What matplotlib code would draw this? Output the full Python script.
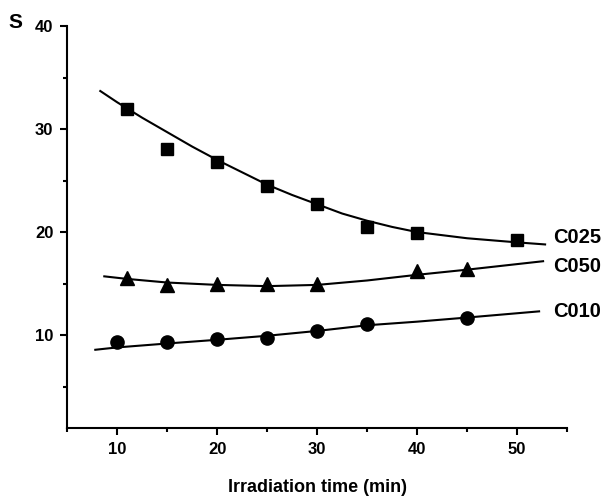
import matplotlib
matplotlib.use('Agg')
import matplotlib.pyplot as plt
from matplotlib.ticker import MultipleLocator

plt.rcParams['font.family'] = 'Liberation Sans'
plt.rcParams['font.weight'] = 'bold'

c025_t = [11, 15, 20, 25, 30, 35, 40, 50]
c025_s = [32.0, 28.1, 26.8, 24.5, 22.7, 20.5, 19.9, 19.25]

c050_t = [11, 15, 20, 25, 30, 40, 45]
c050_s = [15.5, 14.9, 15.0, 15.0, 14.95, 16.2, 16.45]

c010_t = [10, 15, 20, 25, 30, 35, 45]
c010_s = [9.3, 9.35, 9.6, 9.7, 10.4, 11.1, 11.7]

# fitted curves
fit025_t = [8.3, 10, 12.5, 15, 17.5, 20, 22.5, 25, 27.5, 30, 32.5, 35, 37.5, 40, 42.5, 45, 47.5, 50, 52.8]
fit025_s = [33.7, 32.6, 31.1, 29.7, 28.3, 27.0, 25.8, 24.6, 23.6, 22.7, 21.8, 21.1, 20.5, 20.0, 19.7, 19.4, 19.2, 19.0, 18.8]

fit050_t = [8.7, 11, 15, 20, 25, 30, 35, 40, 45, 52.6]
fit050_s = [15.7, 15.45, 15.1, 14.87, 14.75, 14.87, 15.3, 15.85, 16.35, 17.17]

fit010_t = [7.8, 10, 15, 20, 25, 30, 35, 40, 45, 52.2]
fit010_s = [8.57, 8.8, 9.18, 9.54, 9.93, 10.4, 10.95, 11.3, 11.7, 12.3]

labels = ['C025', 'C050', 'C010']
label_y = [19.5, 16.65, 12.3]

fig = plt.figure(figsize=(6.08, 4.97), dpi=100)
ax = fig.add_axes([0.1107, 0.1394, 0.822, 0.808])

ax.plot(fit025_t, fit025_s, '-', color='black', lw=1.5)
ax.plot(fit050_t, fit050_s, '-', color='black', lw=1.5)
ax.plot(fit010_t, fit010_s, '-', color='black', lw=1.5)

ax.plot(c025_t, c025_s, 's', color='black', ms=8.5)
ax.plot(c050_t, c050_s, '^', color='black', ms=10.5)
ax.plot(c010_t, c010_s, 'o', color='black', ms=9.5)

for lab, y in zip(labels, label_y):
    ax.text(53.6, y, lab, fontsize=14.5, fontweight='bold', ha='left', va='center', clip_on=False)

ax.set_xlim(5, 55)
ax.set_ylim(1, 40)
ax.xaxis.set_minor_locator(MultipleLocator(5))
ax.yaxis.set_minor_locator(MultipleLocator(5))
ax.set_xticks([10, 20, 30, 40, 50])
ax.set_yticks([10, 20, 30, 40])

ax.spines['top'].set_visible(False)
ax.spines['right'].set_visible(False)
ax.spines['left'].set_linewidth(1.5)
ax.spines['bottom'].set_linewidth(1.5)
ax.tick_params(which='major', direction='out', length=5, width=1.5, labelsize=12, pad=5)
ax.tick_params(which='minor', direction='out', length=3, width=1.5)
for t in ax.get_xticklabels() + ax.get_yticklabels():
    t.set_fontweight('bold')

ax.set_xlabel('Irradiation time (min)', fontsize=13, fontweight='bold', labelpad=16)
fig.text(15 / 608, 1 - 22 / 497, 'S', fontsize=15, fontweight='bold', ha='center', va='center')

fig.savefig('out.png', dpi=100)
